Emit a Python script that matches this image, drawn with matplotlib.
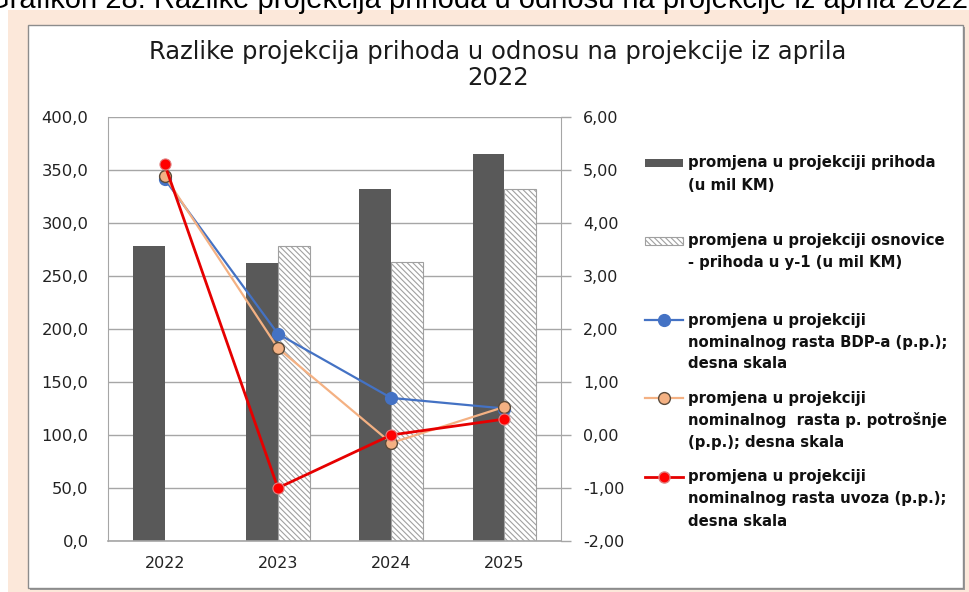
import numpy as np
import matplotlib
matplotlib.use("Agg")
import matplotlib.pyplot as plt
from matplotlib.patches import Rectangle
from matplotlib.lines import Line2D

# ---------------- data ----------------
years = ["2022", "2023", "2024", "2025"]
revenue_change = [278, 262, 332, 365]            # promjena u projekciji prihoda (u mil KM)
base_change = [np.nan, 278, 263, 332]            # promjena u projekciji osnovice - prihoda u y-1
gdp_growth = [4.83, 1.91, 0.70, 0.50]            # nominalni rast BDP-a (p.p.)
consumption_growth = [4.89, 1.64, -0.15, 0.53]   # nominalni rast p. potrošnje (p.p.)
import_growth = [5.11, -1.00, 0.00, 0.30]        # nominalni rast uvoza (p.p.)

left_ticks = [0, 50, 100, 150, 200, 250, 300, 350, 400]
right_ticks = [-2, -1, 0, 1, 2, 3, 4, 5, 6]

title_lines = ["Razlike projekcija prihoda u odnosu na projekcije iz aprila", "2022"]
caption = "Grafikon 28: Razlike projekcija prihoda u odnosu na projekcije iz aprila 2022"
legend_labels = [
    ["promjena u projekciji prihoda", "(u mil KM)"],
    ["promjena u projekciji osnovice", "- prihoda u y-1 (u mil KM)"],
    ["promjena u projekciji", "nominalnog rasta BDP-a (p.p.);", "desna skala"],
    ["promjena u projekciji", "nominalnog  rasta p. potrošnje", "(p.p.); desna skala"],
    ["promjena u projekciji", "nominalnog rasta uvoza (p.p.);", "desna skala"],
]

# ---------------- style ----------------
W, H = 970, 592
DARK = "#595959"
GRID = "#A6A6A6"
BLUE = "#4472C4"
ORANGE = "#F4B183"
RED = "#E60000"
PEACH = "#FCE8DA"
HATCH_EDGE = "#A0A0A0"
HATCH = "\\\\\\\\\\\\"
plt.rcParams["font.family"] = ["DejaVu Sans"]
plt.rcParams["hatch.linewidth"] = 0.8

fig = plt.figure(figsize=(W / 100, H / 100), dpi=100)
fig.patch.set_facecolor("white")

# background panel
fig.patches.append(Rectangle((8 / W, 0), 962 / W, 582 / H, transform=fig.transFigure,
                             facecolor=PEACH, edgecolor="none", zorder=-3))
# chart box shadow + box
fig.patches.append(Rectangle((30 / W, 1 - 590 / H), 935 / W, 563 / H, transform=fig.transFigure,
                             facecolor="#9A9A9A", edgecolor="none", zorder=-2))
fig.patches.append(Rectangle((28 / W, 1 - 588 / H), 935 / W, 563 / H, transform=fig.transFigure,
                             facecolor="white", edgecolor="#8C8C8C", linewidth=1.0, zorder=-1))

# caption, cut at the top edge as in the source
fig.text(968 / W, 1 - 7.5 / H, caption, ha="right", va="baseline", fontsize=21,
         family="Liberation Sans", color="black", zorder=5)

# ---------------- axes ----------------
x0, x1, y0, y1 = 108, 561, 117, 541
ax = fig.add_axes([x0 / W, 1 - y1 / H, (x1 - x0) / W, (y1 - y0) / H])
ax.set_zorder(1)
ax.set_facecolor("none")
x = np.arange(len(years))
bw = 0.28
ax.bar(x - bw / 2, revenue_change, width=bw, color=DARK, zorder=2)
ax.bar(x + bw / 2, base_change, width=bw, facecolor="white", edgecolor=HATCH_EDGE,
       hatch=HATCH, linewidth=0.8, zorder=2)
ax.set_xlim(-0.5, len(years) - 0.5)
ax.set_ylim(0, 400)
ax.set_yticks(left_ticks)
ax.set_yticklabels([f"{v:.1f}".replace(".", ",") for v in left_ticks])
ax.set_xticks(x)
ax.set_xticklabels(years)
ax.yaxis.grid(True, color=GRID, linewidth=1.0, zorder=0)
ax.set_axisbelow(True)
for s in ["top", "right"]:
    ax.spines[s].set_visible(False)
ax.spines["left"].set_color(GRID)
ax.spines["bottom"].set_color(GRID)
ax.spines["bottom"].set_linewidth(1.2)
ax.tick_params(axis="y", length=0, pad=14, labelsize=11.8, labelcolor="#222222")
ax.tick_params(axis="x", length=0, pad=11, labelsize=11.5, labelcolor="#222222")

ax2 = ax.twinx()
ax2.set_zorder(2)
ax2.set_facecolor("none")
ax2.set_ylim(-2, 6)
ax2.set_yticks(right_ticks)
ax2.set_yticklabels([f"{v:.2f}".replace(".", ",") for v in right_ticks])
for s in ["top", "left", "bottom"]:
    ax2.spines[s].set_visible(False)
ax2.spines["right"].set_color(GRID)
ax2.tick_params(axis="y", length=7, width=1.0, color=GRID, pad=9, labelsize=11.5,
                labelcolor="#222222")

ax2.plot(x, gdp_growth, color=BLUE, linewidth=1.6, marker="o", markersize=8.5,
         markerfacecolor=BLUE, markeredgecolor=BLUE, zorder=3)
ax2.plot(x, consumption_growth, color=ORANGE, linewidth=1.6, marker="o", markersize=8.5,
         markerfacecolor=ORANGE, markeredgecolor="#5A4A3A", markeredgewidth=1.0, zorder=4)
ax2.plot(x, import_growth, color=RED, linewidth=2.0, marker="o", markersize=8,
         markerfacecolor="#FF0000", markeredgecolor="#E08080", markeredgewidth=0.8, zorder=5)

# ---------------- title ----------------
for t, ty in zip(title_lines, [52, 78]):
    fig.text(498 / W, 1 - ty / H, t, ha="center", va="center", fontsize=17.5,
             color="#1A1A1A")

# ---------------- legend (manual) ----------------
hx0, hx1, tx = 645, 683, 688
entry_y = [163, 241, 320, 398, 477]
step = 22
for i, (lines, ey) in enumerate(zip(legend_labels, entry_y)):
    for j, t in enumerate(lines):
        fig.text(tx / W, 1 - (ey + j * step) / H, t, ha="left", va="center",
                 fontsize=10.7, fontweight="bold", color="#111111")
# bar handles
fig.patches.append(Rectangle((hx0 / W, 1 - (entry_y[0] + 4) / H), (hx1 - hx0) / W, 8 / H,
                             transform=fig.transFigure, facecolor=DARK, edgecolor="none"))
fig.patches.append(Rectangle((hx0 / W, 1 - (entry_y[1] + 4) / H), (hx1 - hx0) / W, 8 / H,
                             transform=fig.transFigure, facecolor="white", edgecolor=HATCH_EDGE,
                             hatch=HATCH, linewidth=0.8))
# line handles
specs = [
    (BLUE, 1.6, BLUE, BLUE, 8.5),
    (ORANGE, 1.6, ORANGE, "#5A4A3A", 8.5),
    (RED, 2.0, "#FF0000", "#E08080", 8),
]
for (c, lw, fc, ec, ms), ey in zip(specs, entry_y[2:]):
    yy = 1 - ey / H
    fig.lines.append(Line2D([hx0 / W, hx1 / W], [yy, yy], transform=fig.transFigure,
                            color=c, linewidth=lw))
    fig.lines.append(Line2D([(hx0 + hx1) / 2 / W], [yy], transform=fig.transFigure,
                            marker="o", markersize=ms, markerfacecolor=fc,
                            markeredgecolor=ec, linestyle="none"))

fig.savefig("out.png", dpi=100)
